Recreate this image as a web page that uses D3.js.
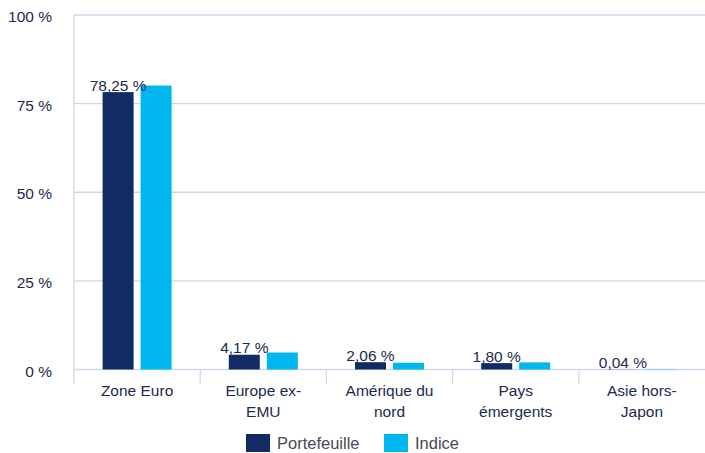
<!doctype html>
<html lang="fr">
<head>
<meta charset="utf-8">
<script src="https://d3js.org/d3.v7.min.js"></script>
<style>
  body { margin: 0; padding: 0; background: #fff; }
  svg text { font-family: "Liberation Sans", Arial, sans-serif; }
  .grid line { stroke: #cdd9ea; stroke-width: 1.3px; }
</style>
</head>
<body>
<div id="chart"></div>
<script>
// data
var categories = [["Zone Euro"], ["Europe ex-", "EMU"], ["Amérique du", "nord"], ["Pays", "émergents"], ["Asie hors-", "Japon"]];
var portefeuille = [78.25, 4.17, 2.06, 1.80, 0.04];
var indice = [80.1, 4.8, 1.9, 2.0, 0.1];
var yTicks = [0, 25, 50, 75, 100];
var seriesNames = ["Portefeuille", "Indice"];
var colors = ["#132b64", "#00b6ee"];

var width = 705, height = 453;
var margin = { left: 74, right: 0, top: 15, bottom: 83.5 };

var svg = d3.select("#chart").append("svg")
    .attr("width", width)
    .attr("height", height);

var x = d3.scaleBand()
    .domain(d3.range(categories.length))
    .range([margin.left, width - margin.right]);

var y = d3.scaleLinear()
    .domain([0, 100])
    .range([height - margin.bottom, margin.top]);

// gridlines
var grid = svg.append("g").attr("class", "grid");
grid.selectAll("line.h")
    .data(yTicks)
    .enter().append("line")
    .attr("x1", margin.left).attr("x2", width - margin.right)
    .attr("y1", function (d) { return y(d); })
    .attr("y2", function (d) { return y(d); });

// left axis line
grid.append("line")
    .attr("x1", margin.left).attr("x2", margin.left)
    .attr("y1", y(100)).attr("y2", y(0) + 14);

// category separators
grid.selectAll("line.v")
    .data(d3.range(1, categories.length))
    .enter().append("line")
    .attr("x1", function (d) { return x(d); })
    .attr("x2", function (d) { return x(d); })
    .attr("y1", y(0)).attr("y2", y(0) + 14);

// y labels
svg.selectAll("text.ylab")
    .data(yTicks)
    .enter().append("text")
    .attr("x", 52)
    .attr("y", function (d) { return y(d) + 7; })
    .attr("text-anchor", "end")
    .attr("font-size", 15.5)
    .attr("fill", "#1c2a4f")
    .text(function (d) { return d + " %"; });

// bars
var bw = 31, gap = 7;
var offset = (x.bandwidth() - (2 * bw + gap)) / 2;

[portefeuille, indice].forEach(function (vals, s) {
    svg.selectAll("rect.s" + s)
        .data(vals)
        .enter().append("rect")
        .attr("x", function (d, i) { return x(i) + offset + s * (bw + gap); })
        .attr("y", function (d) { return y(d); })
        .attr("width", bw)
        .attr("height", function (d) { return y(0) - y(d); })
        .attr("fill", colors[s]);
});

// value labels (portefeuille)
svg.selectAll("text.val")
    .data(portefeuille)
    .enter().append("text")
    .attr("x", function (d, i) { return x(i) + offset + bw / 2; })
    .attr("y", function (d) { return y(d) - 1.5; })
    .attr("text-anchor", "middle")
    .attr("font-size", 15.5)
    .attr("fill", "#1c2a4f")
    .text(function (d) { return d.toFixed(2).replace(".", ",") + " %"; });

// category labels
var cat = svg.selectAll("text.cat")
    .data(categories)
    .enter().append("text")
    .attr("x", function (d, i) { return x(i) + x.bandwidth() / 2; })
    .attr("y", y(0) + 26.5)
    .attr("text-anchor", "middle")
    .attr("font-size", 15.5)
    .attr("fill", "#1c2a4f");
cat.selectAll("tspan")
    .data(function (d) { return d; })
    .enter().append("tspan")
    .attr("x", function () { return d3.select(this.parentNode).attr("x"); })
    .attr("dy", function (d, i) { return i ? 21 : 0; })
    .text(function (d) { return d; });

// legend
var legX = [246, 384];
var legend = svg.selectAll("g.leg")
    .data(seriesNames)
    .enter().append("g")
    .attr("transform", function (d, i) { return "translate(" + legX[i] + ",434)"; });
legend.append("rect")
    .attr("width", 24).attr("height", 18)
    .attr("fill", function (d, i) { return colors[i]; });
legend.append("text")
    .attr("x", 31).attr("y", 14.5)
    .attr("font-size", 16.5)
    .attr("fill", "#454a55")
    .text(function (d) { return d; });
</script>
</body>
</html>
